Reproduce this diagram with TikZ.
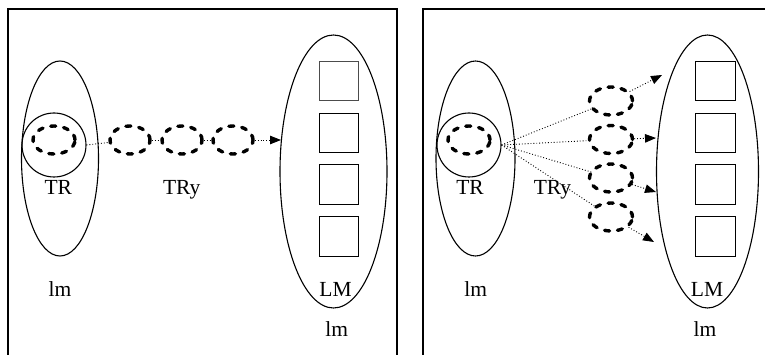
\documentclass[tikz,border=0pt]{standalone}
\usepackage{fontspec}
\setmainfont{Liberation Serif}
\usetikzlibrary{shapes.geometric,arrows.meta}

\tikzset{
  outer/.style={draw, ellipse, inner sep=0pt, line width=1.1pt},
  ring/.style={draw, circle, inner sep=0pt, minimum size=64pt, line width=1.1pt},
  packet/.style={draw, ellipse, fill=white, inner sep=0pt, minimum width=40pt,
                 minimum height=28pt, line width=3.4pt, line cap=round,
                 dash pattern=on 5pt off 8pt},
  slot/.style={draw, rectangle, inner sep=0pt, minimum size=39.5pt, line width=1.1pt},
  label/.style={font=\fontsize{21.5}{21.5}\selectfont, anchor=base, inner sep=0pt},
  flow/.style={dotted, line width=0.9pt},
  tip/.style={-{Triangle[length=11pt,width=8.5pt]}},
  frame/.style={line width=1.3pt}
}

\begin{document}
\begin{tikzpicture}[x=1pt, y=-1pt]
\useasboundingbox (0,0) rectangle (765,355);

% panel frames (open at the bottom)
\draw[frame] (8,355) -- (8,9) -- (397,9) -- (397,355);
\draw[frame] (423,355) -- (423,9) -- (765,9);

% ---------- left panel: sequential chain ----------
\node[outer, minimum width=77pt, minimum height=195pt] (srcA) at (60,158.5) {};
\node[outer, minimum width=107pt, minimum height=273pt] (dstA) at (333.5,171.5) {};
\node[ring] (ringA) at (54,145) {};
\node[packet, minimum width=42pt] (pA0) at (54,140) {};
\node[packet] (pA1) at (130,140) {};
\node[packet] (pA2) at (182,140) {};
\node[packet] (pA3) at (233,140) {};

\node[slot, draw=black!70] (sA1) at (339,81) {};
\node[slot] (sA2) at (339,133) {};
\node[slot] (sA3) at (339,184.5) {};
\node[slot] (sA4) at (339,236.5) {};

\coordinate (oA) at (ringA.east);
\coordinate (tA) at (281,140);
\draw[flow] (oA) -- (pA1);
\draw[flow] (pA1) -- (pA2);
\draw[flow] (pA2) -- (pA3);
\draw[flow, tip] (pA3) -- (tA);

\node[label] (trA)  at (58.3,195) {TR};
\node[label] (tryA) at (181.7,195) {TRy};
\node[label] (lmA)  at (60,296.7) {lm};
\node[label] (LMA)  at (335.5,296.7) {LM};
\node[label] (lmA2) at (336.7,336.7) {lm};

% ---------- right panel: parallel fan-out ----------
\node[outer, minimum width=79pt, minimum height=195pt] (srcB) at (475.5,158.5) {};
\node[outer, minimum width=102pt, minimum height=273pt] (dstB) at (707.5,171.5) {};
\node[ring] (ringB) at (469,145) {};
\node[packet, minimum width=42pt] (pB0) at (469,140) {};

\coordinate (oB) at (ringB.east);
\coordinate (tB1) at (662,75);
\coordinate (tB2) at (656,138);
\coordinate (tB3) at (656,192);
\coordinate (tB4) at (654,242);

\draw[flow] (oB) -- (611,101) coordinate (mB1);
\draw[flow] (oB) -- (611,139.5) coordinate (mB2);
\draw[flow] (oB) -- (611,178) coordinate (mB3);
\draw[flow] (oB) -- (611,217) coordinate (mB4);

\node[packet, minimum width=43pt] (pB1) at (mB1) {};
\node[packet, minimum width=43pt] (pB2) at (mB2) {};
\node[packet, minimum width=43pt] (pB3) at (mB3) {};
\node[packet, minimum width=43pt] (pB4) at (mB4) {};

\draw[flow, tip] (pB1) -- (tB1);
\draw[flow, tip] (pB2) -- (tB2);
\draw[flow, tip] (pB3) -- (tB3);
\draw[flow, tip] (pB4) -- (tB4);

\node[slot] (sB1) at (715.4,81) {};
\node[slot] (sB2) at (715.4,133) {};
\node[slot] (sB3) at (715.4,184.5) {};
\node[slot] (sB4) at (715.4,236.5) {};

\node[label] (trB)  at (470,195) {TR};
\node[label] (tryB) at (552.5,195) {TRy};
\node[label] (lmB)  at (475.8,296.7) {lm};
\node[label] (LMB)  at (707,296.7) {LM};
\node[label] (lmB2) at (705,336.7) {lm};
\end{tikzpicture}
\end{document}
